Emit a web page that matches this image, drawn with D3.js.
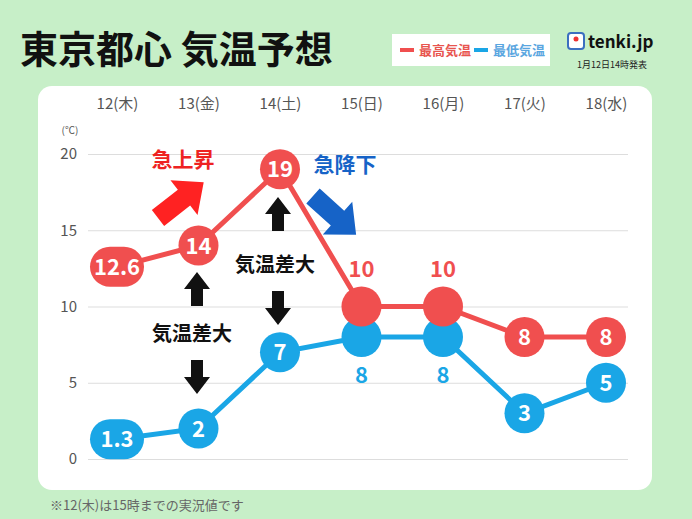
<!DOCTYPE html>
<html><head><meta charset="utf-8">
<script src="https://cdn.jsdelivr.net/npm/d3@7"></script>
<style>body{margin:0;background:#c7efc8}text{font-family:"Noto Sans CJK JP","Noto Sans",sans-serif}</style>
</head><body>
<svg id="c" width="692" height="519"></svg>
<script>
const days = ["12(木)", "13(金)", "14(土)", "15(日)", "16(月)", "17(火)", "18(水)"];
const highTemps = [12.6, 14, 19, 10, 10, 8, 8];
const lowTemps = [1.3, 2, 7, 8, 8, 3, 5];
const yTicks = [0, 5, 10, 15, 20];

const red = "#f04f4f", blue = "#1aa6e6";
const svg = d3.select("#c");

// panel
svg.append("rect").attr("x", 38).attr("y", 86).attr("width", 614).attr("height", 404)
  .attr("rx", 14).attr("fill", "#fff");

// title + legend + logo
svg.append("text").attr("x", 20).attr("y", 63).attr("font-size", 38).attr("font-weight", 700)
  .attr("fill", "#111").text("東京都心 気温予想");
svg.append("rect").attr("x", 392).attr("y", 34).attr("width", 158).attr("height", 32).attr("fill", "#fff");
[[red, "最高気温", 400], [blue, "最低気温", 474]].forEach(([c, t, x]) => {
  svg.append("line").attr("x1", x).attr("x2", x + 14).attr("y1", 50).attr("y2", 50)
    .attr("stroke", c).attr("stroke-width", 4);
  svg.append("text").attr("x", x + 19).attr("y", 55).attr("font-size", 13).attr("font-weight", 700)
    .attr("fill", c === red ? "#e8554f" : "#5aa6e0").text(t);
});
svg.append("rect").attr("x", 568).attr("y", 33).attr("width", 16).attr("height", 16).attr("rx", 3)
  .attr("fill", "#fff").attr("stroke", "#3b6fc0").attr("stroke-width", 2);
svg.append("circle").attr("cx", 576).attr("cy", 39).attr("r", 2.5).attr("fill", "#e33");
svg.append("text").attr("x", 588).attr("y", 48).attr("font-size", 17).attr("font-weight", 700)
  .attr("font-family", "Roboto").attr("fill", "#111").text("tenki.jp");
svg.append("text").attr("x", 612).attr("y", 68).attr("font-size", 9).attr("text-anchor", "middle")
  .attr("fill", "#222").text("1月12日14時発表");

// scales
const x = d3.scalePoint().domain(days).range([117, 606]);
const y = d3.scaleLinear().domain([0, 20]).range([459, 154]);

// grid + axes
const g = svg.append("g").attr("transform", "translate(88,0)");
g.call(d3.axisLeft(y).tickValues(yTicks).tickSize(-540).tickFormat(d3.format("d")))
  .call(a => a.select(".domain").remove())
  .call(a => a.selectAll("line").attr("stroke", "#ddd"))
  .call(a => a.selectAll("text").attr("x", -11).attr("font-size", 15).attr("fill", "#555")
    .attr("font-family", "Noto Sans"));
svg.append("text").attr("x", 70).attr("y", 134).attr("font-size", 10).attr("text-anchor", "middle")
  .attr("fill", "#555").text("(℃)");
svg.append("g").attr("transform", "translate(0,107)").call(d3.axisTop(x).tickSize(0))
  .call(a => a.select(".domain").remove())
  .call(a => a.selectAll("text").attr("font-size", 15).attr("fill", "#555").attr("dy", "0.35em"));

const line = d3.line().x((d, i) => x(days[i])).y(d => y(d));

function series(vals, color, labelPos) {
  svg.append("path").datum(vals).attr("d", line).attr("fill", "none")
    .attr("stroke", color).attr("stroke-width", 5);
  vals.forEach((v, i) => {
    const cx = x(days[i]), cy = y(v);
    const w = String(v).includes(".") ? 54 : 40;
    svg.append("rect").attr("x", cx - w / 2).attr("y", cy - 20).attr("width", w).attr("height", 40)
      .attr("rx", 20).attr("fill", color);
    const pos = labelPos(i);
    svg.append("text").attr("x", cx).attr("y", cy + (pos === 0 ? 8 : pos * 38 + 8))
      .attr("text-anchor", "middle").attr("font-size", 22).attr("font-weight", 700)
      .attr("font-family", "Noto Sans").attr("fill", pos === 0 ? "#fff" : color).text(v);
  });
}
series(lowTemps, blue, i => (i === 3 || i === 4) ? 1 : 0);
series(highTemps, red, i => (i === 3 || i === 4) ? -1 : 0);

// annotations
const bigArrow = "M0,-10 L33,-10 L33,-22 L58,0 L33,22 L33,10 L0,10 Z";
svg.append("path").attr("d", bigArrow).attr("fill", "#f22")
  .attr("transform", "translate(158,218) rotate(-38)");
svg.append("path").attr("d", bigArrow).attr("fill", "#1663c7")
  .attr("transform", "translate(313,196) rotate(42)");
svg.append("text").attr("x", 183).attr("y", 167).attr("text-anchor", "middle").attr("font-size", 21)
  .attr("font-weight", 700).attr("fill", "#ee2222").text("急上昇");
svg.append("text").attr("x", 345).attr("y", 172).attr("text-anchor", "middle").attr("font-size", 21)
  .attr("font-weight", 700).attr("fill", "#1663c7").text("急降下");

const upArrow = "M-6,17 L-6,0 L-13,0 L0,-17 L13,0 L6,0 L6,17 Z";
[[197, 289, 0], [197, 377, 180], [278, 214, 0], [278, 308, 180]].forEach(([ax, ay, r]) => {
  svg.append("path").attr("d", upArrow).attr("fill", "#111")
    .attr("transform", `translate(${ax},${ay}) rotate(${r})`);
});
[[192, 341], [275, 272]].forEach(([tx, ty]) => {
  svg.append("text").attr("x", tx).attr("y", ty).attr("text-anchor", "middle").attr("font-size", 20)
    .attr("font-weight", 700).attr("fill", "#111").text("気温差大");
});

svg.append("text").attr("x", 50).attr("y", 510).attr("font-size", 13).attr("fill", "#666")
  .text("※12(木)は15時までの実況値です");
</script>
</body></html>
